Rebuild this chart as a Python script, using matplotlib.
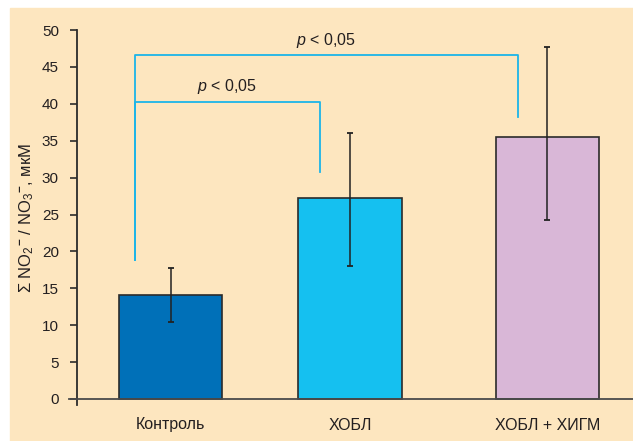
import matplotlib.pyplot as plt
import matplotlib.patches as mpatches

# data
groups = ['Контроль', 'ХОБЛ', 'ХОБЛ + ХИГМ']
means = [14.1, 27.2, 35.5]
err_low = [10.5, 18.0, 24.2]
err_high = [17.7, 36.0, 47.7]
bar_colors = ['#0070b8', '#15c0f0', '#d9b7d7']
xpos = [0, 1, 2.1]

# brackets: (x left, x right, y left end, y top, y right end)
brackets = [(-0.198, 0.833, 18.8, 40.3, 30.7),
            (-0.198, 1.936, 18.8, 46.6, 38.2)]

fam = 'Liberation Sans'
plt.rcParams['font.family'] = [fam, 'DejaVu Sans']
plt.rcParams['mathtext.fontset'] = 'custom'
plt.rcParams['mathtext.rm'] = fam
plt.rcParams['mathtext.it'] = fam + ':italic'
plt.rcParams['mathtext.bf'] = fam + ':bold'

bg = '#fde6bf'
txt = '#231f20'
W, H = 633, 441
fig = plt.figure(figsize=(W / 100, H / 100), dpi=100)
fig.patches.append(mpatches.Rectangle((10 / W, 0), 1 - 10 / W, 1 - 8 / H,
                                      transform=fig.transFigure, color=bg, zorder=-10))

ax = fig.add_axes([77 / W, (H - 405) / H, 1 - 77 / W, (405 - 30) / H])
ax.set_facecolor('none')
ax.set_xlim(-0.521, 2.577)
ax.set_ylim(-50 * 6 / 369, 50)

ax.bar(xpos, means, width=0.575, color=bar_colors, edgecolor='#2b2b2b', linewidth=1.2, zorder=2)
lo = [m - l for m, l in zip(means, err_low)]
hi = [h - m for m, h in zip(means, err_high)]
ax.errorbar(xpos, means, yerr=[lo, hi], fmt='none', ecolor='#222222', elinewidth=1.1,
            capsize=2.5, capthick=1.3, zorder=3)

for x0, x1, y0, ytop, y1 in brackets:
    ax.plot([x0, x0, x1, x1], [y0, ytop, ytop, y1], color='#1cb5e8', lw=1.3, zorder=1)
    ax.text((x0 + x1) / 2, ytop + 0.7, r'$\it{p}$ < 0,05', ha='center', va='bottom',
            fontsize=11.5, color=txt)

for s in ['top', 'right', 'bottom']:
    ax.spines[s].set_visible(False)
ax.spines['left'].set_linewidth(1.3)
ax.spines['left'].set_color('#2b2b2b')
ax.axhline(0, xmin=-8 / 556, xmax=1, color='#4a4a4a', lw=1.3, clip_on=False, zorder=4)

ax.set_yticks(range(0, 51, 5))
ax.tick_params(axis='y', direction='out', length=5, width=1.2, color='#2b2b2b',
               labelsize=11, labelcolor=txt, pad=8)
ax.set_xticks(xpos)
ax.set_xticklabels(groups)
ax.tick_params(axis='x', length=0, labelsize=11.5, labelcolor=txt, pad=9)

ax.set_ylabel(r'$\Sigma$ NO$_2$$^{\mathbf{-}}$ / NO$_3$$^{\mathbf{-}}$, мкМ', fontsize=12,
              color=txt, labelpad=4)

fig.savefig('out.png', dpi=100)
